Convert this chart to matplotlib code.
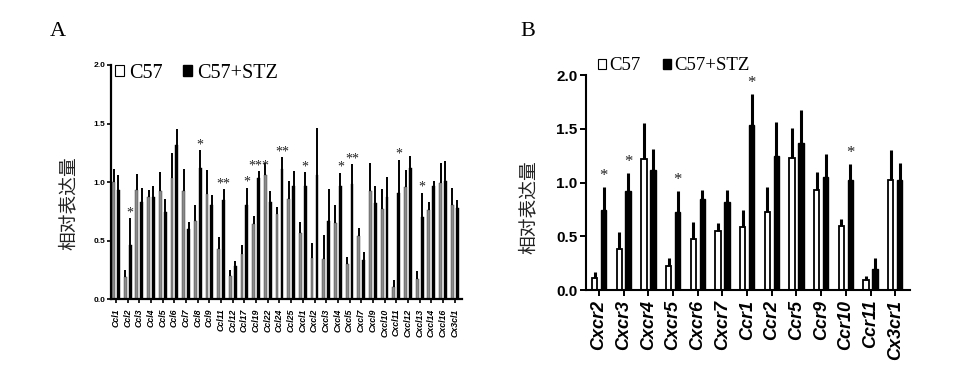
import numpy as np
import matplotlib
matplotlib.use("Agg")
import matplotlib.pyplot as plt
from matplotlib.patches import Patch

plt.rcParams['font.family'] = ['Liberation Sans', 'Noto Sans CJK SC', 'DejaVu Sans']

# ----------------------------
# Panel A data: chemokines
# ----------------------------
a_genes = ["Ccl1", "Ccl2", "Ccl3", "Ccl4", "Ccl5", "Ccl6", "Ccl7", "Ccl8", "Ccl9",
           "Ccl11", "Ccl12", "Ccl17", "Ccl19", "Ccl22", "Ccl24", "Ccl25", "Cxcl1",
           "Cxcl2", "Cxcl3", "Cxcl4", "Cxcl5", "Cxcl7", "Cxcl9", "Cxcl10", "Cxcl11",
           "Cxcl12", "Cxcl13", "Cxcl14", "Cxcl16", "Cx3cl1"]
a_c57 = [1.00, 0.19, 0.93, 0.875, 0.92, 1.03, 0.92, 0.67, 0.90, 0.43, 0.20,
         0.385, 0.64, 1.06, 0.73, 0.855, 0.56, 0.35, 0.34, 0.65, 0.30, 0.54,
         0.92, 0.77, 0.105, 0.955, 0.17, 0.76, 0.99, 0.80]
a_c57_err = [0.11, 0.06, 0.14, 0.055, 0.165, 0.215, 0.19, 0.13, 0.20, 0.10, 0.05,
             0.075, 0.07, 0.10, 0.06, 0.155, 0.10, 0.13, 0.21, 0.15, 0.06, 0.07,
             0.24, 0.17, 0.055, 0.145, 0.07, 0.07, 0.17, 0.15]
a_stz = [0.93, 0.46, 0.83, 0.875, 0.74, 1.315, 0.60, 1.12, 0.80, 0.85, 0.28,
         0.80, 1.03, 0.83, 1.11, 0.97, 0.97, 1.06, 0.67, 0.97, 0.98, 0.33,
         0.82, 0.87, 0.91, 1.12, 0.70, 0.97, 1.01, 0.78]
a_stz_err = [0.13, 0.23, 0.12, 0.095, 0.115, 0.135, 0.06, 0.15, 0.09, 0.09, 0.045,
             0.15, 0.06, 0.09, 0.10, 0.12, 0.115, 0.40, 0.27, 0.11, 0.17, 0.07,
             0.15, 0.17, 0.28, 0.10, 0.21, 0.04, 0.17, 0.07]
a_stars = {"Ccl2": "*", "Ccl8": "*", "Ccl11": "**", "Ccl17": "*", "Ccl19": "***",
           "Ccl24": "**", "Cxcl1": "*", "Cxcl4": "*", "Cxcl5": "**",
           "Cxcl11": "*", "Cxcl13": "*"}

# ----------------------------
# Panel B data: receptors
# ----------------------------
b_genes = ["Cxcr2", "Cxcr3", "Cxcr4", "Cxcr5", "Cxcr6", "Cxcr7", "Ccr1", "Ccr2",
           "Ccr5", "Ccr9", "Ccr10", "Ccr11", "Cx3cr1"]
b_c57 = [0.115, 0.38, 1.215, 0.22, 0.475, 0.55, 0.59, 0.73, 1.23, 0.93, 0.595, 0.093, 1.02]
b_c57_err = [0.055, 0.16, 0.335, 0.08, 0.16, 0.07, 0.155, 0.23, 0.28, 0.17, 0.065, 0.04, 0.28]
b_stz = [0.74, 0.92, 1.115, 0.73, 0.845, 0.815, 1.535, 1.245, 1.37, 1.055, 1.02, 0.20, 1.02]
b_stz_err = [0.215, 0.165, 0.195, 0.19, 0.09, 0.115, 0.285, 0.32, 0.30, 0.21, 0.15, 0.10, 0.16]
b_stars = {"Cxcr2": "*", "Cxcr3": "*", "Cxcr5": "*", "Ccr1": "*", "Ccr10": "*"}

fig = plt.figure(figsize=(9.72, 3.81), dpi=100)
serif = ['Liberation Serif', 'DejaVu Serif']
ylabel = "相对表达量"


def legend_handles():
    return [Patch(facecolor="white", edgecolor="black", lw=0.8, label="C57"),
            Patch(facecolor="black", edgecolor="black", label="C57+STZ")]


# ----------------------------
# Panel A
# ----------------------------
axA = fig.add_axes([0.1139, 0.2152, 0.3611, 0.6142])
xa = np.arange(len(a_genes))
off, w = 0.21, 0.24
axA.bar(xa - off, a_c57, w, color="#8a8a8a", edgecolor="#333333", linewidth=0.3)
axA.bar(xa + off, a_stz, w, color="black", edgecolor="black", linewidth=0.3)
axA.vlines(xa - off, a_c57, np.array(a_c57) + np.array(a_c57_err), color="black", lw=1.4)
axA.vlines(xa + off, a_stz, np.array(a_stz) + np.array(a_stz_err), color="black", lw=1.4)
for i, g in enumerate(a_genes):
    if g in a_stars:
        axA.text(i + off, a_stz[i] + a_stz_err[i] - 0.01, a_stars[g], ha="center",
                 va="bottom", fontsize=10, family=serif, color="#222222")
axA.set_xlim(-0.45, 29.6)
axA.set_ylim(0, 2.0)
axA.set_yticks([0.0, 0.5, 1.0, 1.5, 2.0])
axA.set_yticklabels(["0.0", "0.5", "1.0", "1.5", "2.0"], fontsize=6, fontweight="bold")
axA.set_xticks(xa)
axA.set_xticklabels(a_genes, rotation=90, fontsize=6.3, fontweight="bold", style="italic")
axA.tick_params(axis="x", length=3, width=1.2, pad=4)
axA.tick_params(axis="y", length=3, width=1.2, pad=1)
for s in ["top", "right"]:
    axA.spines[s].set_visible(False)
for s in ["left", "bottom"]:
    axA.spines[s].set_linewidth(1.6)
axA.set_ylabel(ylabel, fontsize=13.5, color="#222222")
axA.yaxis.set_label_coords(-0.093, 0.41)
axA.legend(handles=legend_handles(), loc="center left", bbox_to_anchor=(0.012, 0.965),
           ncol=2, frameon=False, prop={"family": serif, "size": 14.5},
           handlelength=0.45, handleheight=0.45, handletextpad=0.25,
           columnspacing=1.0, borderpad=0, borderaxespad=0)
fig.text(0.051, 0.905, "A", fontsize=16, family=serif)

# ----------------------------
# Panel B
# ----------------------------
axB = fig.add_axes([0.6029, 0.2388, 0.3333, 0.5643])
xb = np.arange(len(b_genes))
offb, wb = 0.18, 0.22
axB.bar(xb - offb, b_c57, wb, color="white", edgecolor="black", linewidth=1.3)
axB.bar(xb + offb, b_stz, wb, color="black", edgecolor="black", linewidth=1.0)
axB.vlines(xb - offb, b_c57, np.array(b_c57) + np.array(b_c57_err), color="black", lw=2.2)
axB.vlines(xb + offb, b_stz, np.array(b_stz) + np.array(b_stz_err), color="black", lw=2.2)
for i, g in enumerate(b_genes):
    if g in b_stars:
        axB.text(i + offb, b_stz[i] + b_stz_err[i] + 0.03, b_stars[g], ha="center",
                 va="bottom", fontsize=12, family=serif, color="#222222")
axB.set_xlim(-0.53, 12.6)
axB.set_ylim(0, 2.0)
axB.set_yticks([0.0, 0.5, 1.0, 1.5, 2.0])
axB.set_yticklabels(["0.0", "0.5", "1.0", "1.5", "2.0"], fontsize=11, fontweight="bold")
axB.set_xticks(xb)
axB.set_xticklabels(b_genes, rotation=90, fontsize=13, fontweight="bold", style="italic")
axB.tick_params(axis="x", length=4, width=1.4, pad=3)
axB.tick_params(axis="y", length=4, width=1.4, pad=2)
for s in ["top", "right"]:
    axB.spines[s].set_visible(False)
for s in ["left", "bottom"]:
    axB.spines[s].set_linewidth(1.5)
axB.set_ylabel(ylabel, fontsize=13.5, color="#222222")
axB.yaxis.set_label_coords(-0.148, 0.387)
axB.legend(handles=legend_handles(), loc="center left", bbox_to_anchor=(0.037, 1.042),
           ncol=2, frameon=False, prop={"family": serif, "size": 13.5},
           handlelength=0.45, handleheight=0.45, handletextpad=0.15,
           columnspacing=1.2, borderpad=0, borderaxespad=0)
fig.text(0.535, 0.905, "B", fontsize=16, family=serif)

fig.savefig("out.png", dpi=100)
